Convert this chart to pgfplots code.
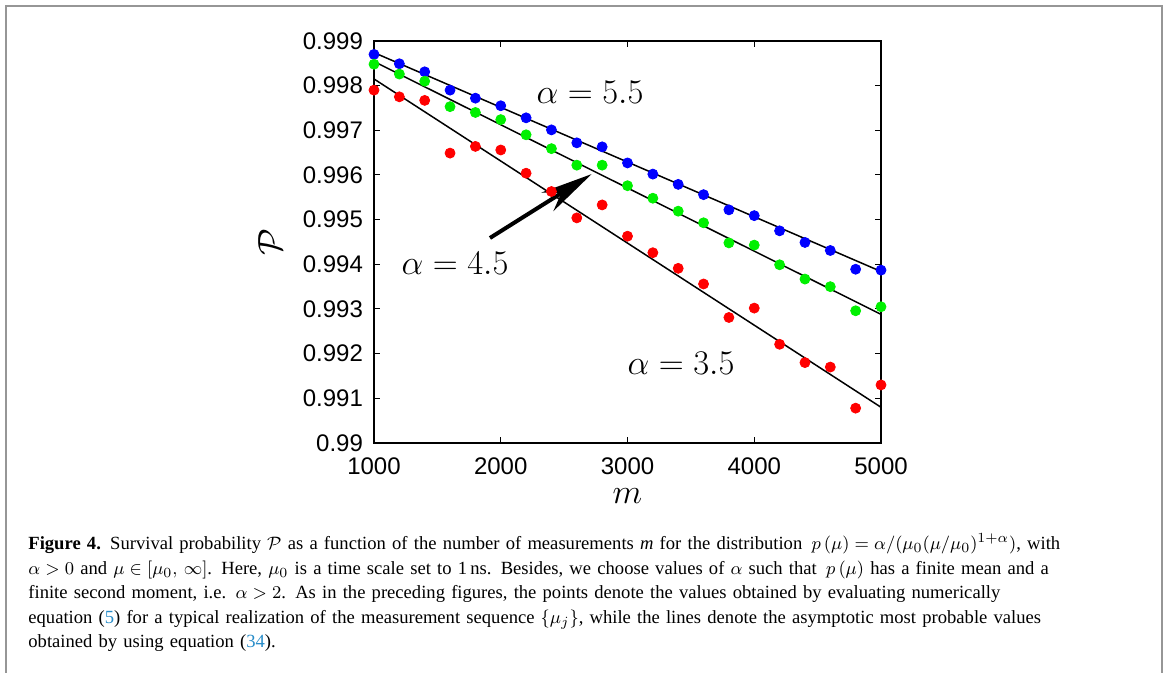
\documentclass[border=0pt]{standalone}
\usepackage{pgfplots}
\pgfplotsset{compat=1.18}
\usepackage{fontspec}
\setmainfont{Liberation Serif}
\newfontfamily\tickfont{Liberation Sans}
\usetikzlibrary{arrows.meta}
\definecolor{framegray}{RGB}{150,150,150}
\definecolor{linkblue}{RGB}{40,140,200}
\definecolor{pgreen}{RGB}{0,240,0}
\newcommand\capline[2]{\leavevmode\hbox to #1pt{#2}}
\newcommand\rigidmath{\thickmuskip=5mu\relax\medmuskip=4mu\relax}

\pgfplotstableread{
m     blue     green    red
1000  0.99870  0.99848  0.99790
1200  0.99849  0.99826  0.99775
1400  0.99831  0.99810  0.99767
1600  0.99790  0.99753  0.99649
1800  0.99772  0.99740  0.99664
2000  0.99755  0.99724  0.99656
2200  0.99728  0.99690  0.99604
2400  0.99701  0.99659  0.99563
2600  0.99672  0.99622  0.99504
2800  0.99663  0.99622  0.99533
3000  0.99627  0.99576  0.99463
3200  0.99602  0.99548  0.99426
3400  0.99579  0.99519  0.99391
3600  0.99556  0.99493  0.99356
3800  0.99522  0.99448  0.99281
4000  0.99509  0.99443  0.99302
4200  0.99475  0.99399  0.99221
4400  0.99449  0.99367  0.99180
4600  0.99431  0.99350  0.99170
4800  0.99389  0.99296  0.99078
5000  0.99387  0.99305  0.99130
}\points

\begin{document}
\begin{tikzpicture}[x=1pt,y=1pt]
\path[use as bounding box] (0,0) rectangle (585,336.5);
\draw[framegray, line width=1pt] (3,0) -- (3,333.5) -- (581,333.5) -- (581,0);
\begin{axis}[
  at={(187pt,115pt)}, anchor=south west,
  scale only axis, width=253.5pt, height=201pt,
  xmin=1000, xmax=5000, ymin=0.99, ymax=0.999,
  xtick={1000,2000,3000,4000,5000},
  xticklabels={1000,2000,3000,4000,5000},
  ytick={0.990,0.991,0.992,0.993,0.994,0.995,0.996,0.997,0.998,0.999},
  yticklabels={0.99,0.991,0.992,0.993,0.994,0.995,0.996,0.997,0.998,0.999},
  scaled ticks=false,
  tick align=inside, major tick length=3pt,
  tick style={black, line width=0.5pt},
  axis line style={line width=0.6pt},
  tick label style={font=\tickfont\fontsize{12}{14}\selectfont},
  xticklabel style={yshift=-4pt},
  yticklabel style={xshift=-2pt},
  xlabel={$m$}, ylabel={$\mathcal{P}$},
  xlabel style={at={(axis description cs:0.5,-0.132)}, anchor=center, font=\fontsize{17}{20}\selectfont},
  ylabel style={at={(axis description cs:-0.205,0.5)}, anchor=center, rotate=0, font=\fontsize{17}{20}\selectfont},
  clip=false,
]
\addplot[black, line width=0.75pt] coordinates {(1000,0.99874) (5000,0.99384)};
\addplot[black, line width=0.75pt] coordinates {(1000,0.99854) (5000,0.99288)};
\addplot[black, line width=0.75pt] coordinates {(1000,0.99815) (5000,0.99080)};
\addplot[only marks, mark=*, mark size=2.5pt, color=blue, mark options={draw=blue, fill=blue}] table[x=m, y=blue] {\points};
\addplot[only marks, mark=*, mark size=2.5pt, color=pgreen, mark options={draw=pgreen, fill=pgreen}] table[x=m, y=green] {\points};
\addplot[only marks, mark=*, mark size=2.5pt, color=red, mark options={draw=red, fill=red}] table[x=m, y=red] {\points};
\node[font=\fontsize{17.5}{20}\selectfont] at (axis cs:2704,0.99784) {$\alpha = 5.5$};
\node[font=\fontsize{17.5}{20}\selectfont] at (axis cs:1639,0.99403) {$\alpha = 4.5$};
\node[font=\fontsize{17.5}{20}\selectfont] at (axis cs:3422,0.99179) {$\alpha = 3.5$};
\draw[line width=2pt, -{Stealth[length=26pt, width=11pt, inset=8pt]}] (axis cs:1915,0.99459) -- (axis cs:2717,0.99602);
\end{axis}
\node[anchor=base west, text width=540pt, align=left, inner sep=0pt, font=\fontsize{9.3}{12.2}\selectfont] at (14,61.5) {\rigidmath%
\capline{520.5}{\textbf{Figure 4.} Survival probability $\mathcal{P}$ as a function of the number of measurements \textit{m} for the distribution $\,p\,(\mu) = \alpha/(\mu_0(\mu/\mu_0)^{1+\alpha})$, with}\\
\capline{501.5}{$\alpha > 0$ and $\mu \in [\mu_0,\, \infty]$. Here, $\mu_0$ is a time scale set to 1\,ns. Besides, we choose values of $\alpha$ such that $\,p\,(\mu)$ has a finite mean and a}\\
\capline{491}{finite second moment, i.e. $\alpha > 2$. As in the preceding figures, the points denote the values obtained by evaluating numerically}\\
\capline{508}{equation (\textcolor{linkblue}{5}) for a typical realization of the measurement sequence $\{\mu_j\}$, while the lines denote the asymptotic most probable values}\\
\capline{115}{obtained by using equation (\textcolor{linkblue}{34}).}};
\end{tikzpicture}
\end{document}
